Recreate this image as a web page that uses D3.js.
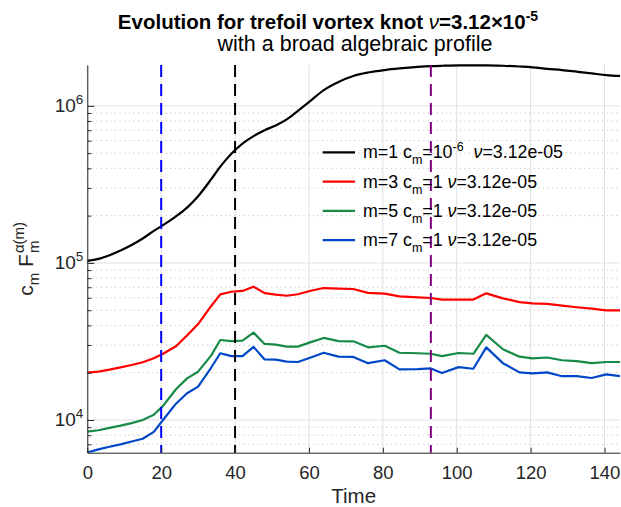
<!DOCTYPE html>
<html>
<head>
<meta charset="utf-8">
<script src="https://cdn.jsdelivr.net/npm/d3@7"></script>
<style>
  body { margin: 0; background: #fff; }
  svg { font-family: "Liberation Sans", Arial, Helvetica, sans-serif; }
</style>
</head>
<body>
<div id="chart"></div>
<script>
// sample times shared by all four curves
const times = [0, 3, 6, 9, 12, 15, 18, 20.5, 24, 27, 30, 33.5, 36, 39, 42, 45,
  48, 51, 54, 57, 60.5, 64, 68, 72, 76, 80.5, 84.5, 89.5, 93, 96, 100.5, 104.5,
  108, 112.5, 117, 120.5, 124.5, 128.5, 132.5, 136.5, 140.5, 144.2];

const m1 = [1.03e5, 1.06e5, 1.12e5, 1.2e5, 1.3e5, 1.43e5, 1.6e5, 1.74e5, 1.98e5, 2.25e5,
  2.66e5, 3.4e5, 4.1e5, 4.95e5, 5.75e5, 6.42e5, 7.0e5, 7.5e5, 8.2e5, 9.3e5, 1.08e6,
  1.26e6, 1.42e6, 1.55e6, 1.63e6, 1.69e6, 1.73e6, 1.77e6, 1.79e6, 1.8e6, 1.81e6, 1.81e6,
  1.81e6, 1.8e6, 1.78e6, 1.76e6, 1.72e6, 1.69e6, 1.65e6, 1.61e6, 1.57e6, 1.55e6];

const m3 = [2.0e4, 2.03e4, 2.09e4, 2.16e4, 2.24e4, 2.33e4, 2.47e4, 2.64e4, 2.95e4, 3.45e4,
  4.08e4, 5.3e4, 6.3e4, 6.55e4, 6.63e4, 7.06e4, 6.42e4, 6.28e4, 6.18e4, 6.32e4, 6.65e4,
  6.92e4, 6.86e4, 6.82e4, 6.45e4, 6.37e4, 6.12e4, 6.04e4, 5.98e4, 5.84e4, 5.84e4, 5.84e4,
  6.4e4, 5.95e4, 5.63e4, 5.52e4, 5.48e4, 5.34e4, 5.22e4, 5.12e4, 4.99e4, 4.99e4];

const m5 = [8.43e3, 8.6e3, 8.9e3, 9.2e3, 9.55e3, 1.0e4, 1.08e4, 1.23e4, 1.57e4, 1.84e4,
  2.03e4, 2.57e4, 3.23e4, 3.18e4, 3.2e4, 3.6e4, 3.05e4, 3.02e4, 2.93e4, 2.93e4, 3.13e4,
  3.33e4, 3.18e4, 3.17e4, 2.9e4, 2.97e4, 2.68e4, 2.66e4, 2.64e4, 2.55e4, 2.67e4, 2.64e4,
  3.48e4, 2.82e4, 2.53e4, 2.47e4, 2.5e4, 2.4e4, 2.37e4, 2.3e4, 2.34e4, 2.34e4];

const m7 = [6.2e3, 6.5e3, 6.75e3, 7.0e3, 7.3e3, 7.6e3, 8.4e3, 1.0e4, 1.27e4, 1.48e4,
  1.63e4, 2.15e4, 2.66e4, 2.55e4, 2.55e4, 2.92e4, 2.43e4, 2.42e4, 2.35e4, 2.34e4, 2.5e4,
  2.68e4, 2.53e4, 2.52e4, 2.3e4, 2.4e4, 2.1e4, 2.11e4, 2.13e4, 1.99e4, 2.17e4, 2.12e4,
  2.9e4, 2.3e4, 2.01e4, 1.98e4, 2.01e4, 1.9e4, 1.9e4, 1.85e4, 1.95e4, 1.9e4];

const modes = [1, 3, 5, 7];
const cmLabels = ["10^-6", "1", "1", "1"];
const nuLabel = "3.12e-05";
const xTicks = [0, 20, 40, 60, 80, 100, 120, 140];
const yExponents = [4, 5, 6];
const markerTimes = [20, 40, 93];

const lineColors = ["#000000", "#ff0000", "#178a48", "#0047c8"];
const markerColors = ["#0000ff", "#000000", "#800080"];

const width = 621, height = 507;
const plot = { left: 87.3, right: 620, top: 65, bottom: 452.7 };

const svg = d3.select("#chart").append("svg")
  .attr("width", width).attr("height", height);

const x = d3.scaleLinear().domain([0, 144.2]).range([plot.left, plot.right]);
const y = d3.scaleLog().domain([6190, 1.82e6]).range([plot.bottom, plot.top]);

// minor decades
const minorVals = [];
for (let e = 3; e <= 6; e++) {
  for (let k = 2; k <= 9; k++) {
    const v = k * Math.pow(10, e);
    if (v > y.domain()[0] && v < y.domain()[1]) minorVals.push(v);
  }
}
const majorVals = yExponents.map(e => Math.pow(10, e));

// grid
const grid = svg.append("g");
grid.selectAll(".ymin").data(minorVals).enter().append("line")
  .attr("x1", plot.left).attr("x2", plot.right)
  .attr("y1", d => y(d)).attr("y2", d => y(d))
  .attr("stroke", "#c4c4c4").attr("stroke-width", 1)
  .attr("stroke-dasharray", "1.2,3.4");
grid.selectAll(".xmaj").data(xTicks).enter().append("line")
  .attr("x1", d => x(d)).attr("x2", d => x(d))
  .attr("y1", plot.top).attr("y2", plot.bottom)
  .attr("stroke", "#e0e0e0").attr("stroke-width", 1);
grid.selectAll(".ymaj").data(majorVals).enter().append("line")
  .attr("x1", plot.left).attr("x2", plot.right)
  .attr("y1", d => y(d)).attr("y2", d => y(d))
  .attr("stroke", "#e0e0e0").attr("stroke-width", 1);

svg.append("clipPath").attr("id", "clip").append("rect")
  .attr("x", plot.left).attr("y", plot.top - 2)
  .attr("width", plot.right - plot.left).attr("height", plot.bottom - plot.top + 2);

// curves
const series = [m1, m3, m5, m7];
const lineGen = (smooth) => d3.line()
  .x((d, i) => x(times[i]))
  .y(d => y(d))
  .curve(smooth ? d3.curveMonotoneX : d3.curveLinear);

const curves = svg.append("g").attr("clip-path", "url(#clip)");
series.forEach((vals, i) => {
  curves.append("path")
    .datum(vals)
    .attr("d", lineGen(i === 0))
    .attr("fill", "none")
    .attr("stroke", lineColors[i])
    .attr("stroke-width", 2.2)
    .attr("stroke-linejoin", "round");
});

// dashed time markers
svg.append("g").selectAll("line").data(markerTimes).enter().append("line")
  .attr("x1", d => x(d)).attr("x2", d => x(d))
  .attr("y1", plot.top).attr("y2", plot.bottom)
  .attr("stroke", (d, i) => markerColors[i])
  .attr("stroke-width", 2)
  .attr("stroke-dasharray", "12,7");

// axes
const axisColor = "#262626";
const xAxis = svg.append("g")
  .attr("transform", `translate(0,${plot.bottom})`)
  .call(d3.axisBottom(x).tickValues(xTicks).tickSizeInner(-5).tickSizeOuter(0)
    .tickPadding(13).tickFormat(d3.format("d")));
xAxis.select(".domain").attr("stroke", axisColor);
xAxis.selectAll(".tick line").attr("stroke", axisColor);
xAxis.selectAll(".tick text").attr("fill", axisColor)
  .style("font-size", "18.5px").style("font-family", "Liberation Sans, Arial, sans-serif");

const yMinor = svg.append("g")
  .attr("transform", `translate(${plot.left},0)`)
  .call(d3.axisLeft(y).tickValues(minorVals).tickSizeInner(-4).tickSizeOuter(0).tickFormat(""));
yMinor.select(".domain").remove();
yMinor.selectAll(".tick line").attr("stroke", axisColor);

const yAxis = svg.append("g")
  .attr("transform", `translate(${plot.left},0)`)
  .call(d3.axisLeft(y).tickValues(majorVals).tickSizeInner(-7).tickSizeOuter(0).tickFormat(""));
yAxis.select(".domain").attr("stroke", axisColor);
yAxis.selectAll(".tick line").attr("stroke", axisColor);

// y tick labels 10^n
yExponents.forEach(e => {
  const t = svg.append("text")
    .attr("x", plot.left - 4)
    .attr("y", y(Math.pow(10, e)) + 6.5)
    .attr("text-anchor", "end")
    .attr("fill", axisColor)
    .style("font-size", "19px");
  t.append("tspan").text("10");
  t.append("tspan").attr("dy", -8).style("font-size", "13.5px").text(e);
});

// x label
svg.append("text")
  .attr("x", (plot.left + plot.right) / 2)
  .attr("y", 503)
  .attr("text-anchor", "middle")
  .attr("fill", axisColor)
  .style("font-size", "20.5px")
  .text("Time");

// y label: c_m F_m^{alpha(m)}
const yl = svg.append("g").attr("transform", "rotate(-90)");
const ylt = yl.append("text").attr("x", 0).attr("y", 0)
  .attr("fill", axisColor).style("font-size", "21px");
ylt.append("tspan").text("c");
ylt.append("tspan").attr("dy", 6).style("font-size", "15px").text("m");
ylt.append("tspan").attr("dy", -6).text(" F");
const fEnd = ylt.node().getComputedTextLength() + 1;
ylt.append("tspan").attr("x", fEnd).attr("dy", -9).style("font-size", "15px").text("α(m)");
ylt.append("tspan").attr("x", fEnd).attr("dy", 15).style("font-size", "15px").text("m");
const ylw = ylt.node().getBBox().width;
yl.attr("transform", `translate(33,${(plot.top + plot.bottom) / 2 + ylw / 2}) rotate(-90)`);

// title
const title = svg.append("text")
  .attr("x", 328).attr("y", 29)
  .attr("text-anchor", "middle")
  .style("font-size", "20.5px").style("font-weight", "bold")
  .attr("fill", "#000");
title.append("tspan").text("Evolution for trefoil vortex knot ");
title.append("tspan").style("font-style", "italic").style("font-weight", "normal").text("ν");
title.append("tspan").text("=3.12×10");
title.append("tspan").attr("dy", -8).style("font-size", "14px").text("-5");

svg.append("text")
  .attr("x", 355).attr("y", 51)
  .attr("text-anchor", "middle")
  .style("font-size", "21.5px")
  .attr("fill", "#000")
  .text("with a broad algebraic profile");

// legend
const legend = svg.append("g");
modes.forEach((m, i) => {
  const ly = 152.3 + i * 29.3;
  legend.append("line")
    .attr("x1", 322.7).attr("x2", 355)
    .attr("y1", ly).attr("y2", ly)
    .attr("stroke", lineColors[i]).attr("stroke-width", 2.2);
  const t = legend.append("text")
    .attr("x", 363).attr("y", ly + 6)
    .attr("fill", "#000")
    .style("font-size", "17.8px");
  t.append("tspan").text(`m=${m} c`);
  t.append("tspan").attr("dy", 6).style("font-size", "12.5px").text("m");
  const cm = cmLabels[i].split("^");
  t.append("tspan").attr("dy", -6).text("=" + cm[0]);
  if (cm[1]) {
    t.append("tspan").attr("dy", -7).style("font-size", "12.5px").text(cm[1]);
    t.append("tspan").attr("dy", 7).text("\u00a0 ");
  } else {
    t.append("tspan").text(" ");
  }
  t.append("tspan").style("font-style", "italic").text("ν");
  t.append("tspan").text("=" + nuLabel);
});
</script>
</body>
</html>
